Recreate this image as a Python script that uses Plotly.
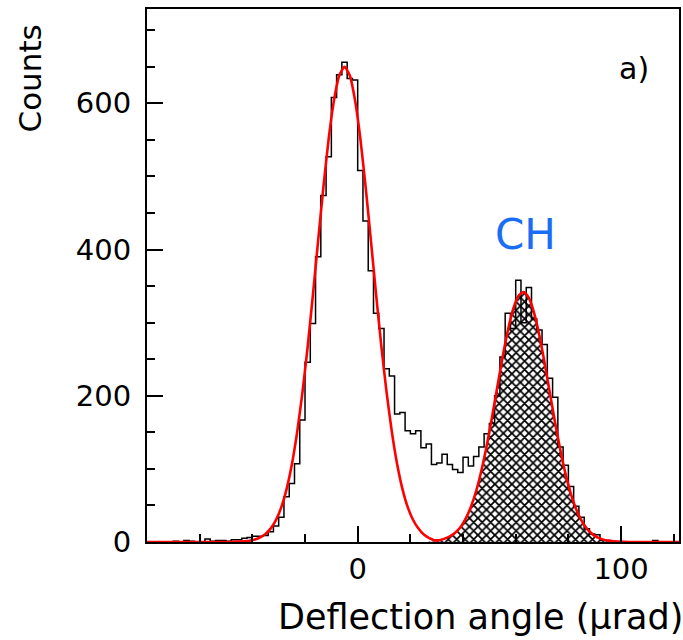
import plotly.graph_objects as go

# ---------------- data ----------------
bin_width = 2.0
x_first_edge = -80.0
counts = [
    0, 0, 0, 0, 0, 1, 0, 2, 1, 0,            # -80 .. -62
    0, 4, 1, 2, 2, 1, 3, 3, 5, 6,            # -60 .. -42
    8, 8, 9, 14, 22, 34, 62, 80, 107, 167,   # -40 .. -22
    246, 299, 390, 474, 527, 608, 639, 656, 634, 632,  # -20 .. -2
    508, 439, 371, 313, 292, 237, 227, 175, 177, 152,  # 0 .. 18
    148, 152, 129, 134, 106, 108, 120, 106, 99, 95,    # 20 .. 38
    116, 104, 117, 130, 148, 162, 200, 253, 313, 292,  # 40 .. 58
    358, 300, 348, 305, 290, 270, 224, 198, 130, 105,  # 60 .. 78
    76, 49, 34, 18, 11, 10, 3, 2, 1, 0,                # 80 .. 98
    0, 0, 0, 0, 0, 0, 2, 0, 0, 0,                      # 100 .. 118
    0,                                                 # 120
]

# fitted curve (sum of both peaks)
fit_x = [-80, -60, -53, -49,
         -45, -43, -41, -39, -37, -35, -33, -31, -29, -27, -25, -23, -21, -19,
         -17, -15, -13, -11, -9, -7, -5, -3, -1, 1, 3, 5, 7, 9, 11, 13, 15,
         17, 19, 21, 23, 25, 27, 29, 31, 33, 35, 37, 39, 41, 43, 45, 47, 49,
         51, 53, 55, 57, 59, 61, 63, 65, 67, 69, 71, 73, 75, 77, 79, 81, 83,
         85, 87, 89, 91, 93, 95, 97, 99,
         103, 110, 122]
fit_y = [0, 0, 0, 0.1,
         0.5, 0.9, 1.8, 3.4, 6.3, 11, 18.6, 30.3, 47.7, 72.4, 106, 150, 204, 267,
         338, 413, 486, 552, 604, 638, 650, 638, 604, 552, 486, 413, 338, 267, 204, 150, 106,
         72.4, 47.7, 30.4, 18.7, 10.5, 5.5, 2.5, 2.5, 4.6, 7.6, 12.5, 20.2, 31.9, 48.2, 70.1, 98.2, 132,
         170.5, 211.6, 252.4, 289, 318.2, 336.5, 342, 333.8, 313.1, 282.2, 244.4, 203.3, 162.5, 124.8, 92.1, 65.3, 44.5,
         29.1, 18.3, 11.1, 6.4, 3.6, 1.9, 1.0, 0.5,
         0.1, 0, 0]

# channeling (CH) component, hatched
ch_x = [27, 29, 31, 33, 35, 37, 39, 41, 43, 45, 47, 49,
        51, 53, 55, 57, 59, 61, 63, 65, 67, 69, 71, 73, 75, 77, 79, 81, 83,
        85, 87, 89, 91, 93, 95, 97, 99, 103, 110, 122]
ch_y = [0.6, 1.1, 2.2, 4.0, 7.2, 12.3, 20.1, 31.8, 48.2, 70.1, 98.2, 132,
        170.5, 211.6, 252.4, 289, 318.2, 336.5, 342, 333.8, 313.1, 282.2, 244.4, 203.3, 162.5, 124.8, 92.1, 65.3, 44.5,
        29.1, 18.3, 11.1, 6.4, 3.6, 1.9, 1.0, 0.5, 0.1, 0, 0]

x_range = [-80, 122]
y_range = [0, 729]
x_title = "Deflection angle (\u03bcrad)"
y_title = "Counts"
panel_label = "a)"
ch_label = "CH"

assert len(fit_x) == len(fit_y) and len(ch_x) == len(ch_y)

# step outline of the histogram
edges = [x_first_edge + i * bin_width for i in range(len(counts) + 1)]
step_x = edges
step_y = counts + [counts[-1]]

FONT = "DejaVu Sans"

fig = go.Figure()

fig.add_trace(go.Scatter(
    x=ch_x, y=ch_y, mode="lines", fill="tozeroy",
    line=dict(width=0, color="rgba(0,0,0,0)", shape="spline", smoothing=0.6),
    fillcolor="white",
    fillpattern=dict(shape="x", fgcolor="black", fgopacity=1, bgcolor="white",
                     size=6, solidity=0.5),
    hoverinfo="skip", showlegend=False,
))

fig.add_trace(go.Scatter(
    x=step_x, y=step_y, mode="lines",
    line=dict(color="black", width=1.5, shape="hv"),
    showlegend=False,
))

fig.add_trace(go.Scatter(
    x=fit_x, y=fit_y, mode="lines",
    line=dict(color="#ff0000", width=2.6, shape="spline", smoothing=0.6),
    showlegend=False,
))

fig.update_layout(
    width=683, height=640,
    margin=dict(l=147, r=2, t=9, b=98),
    paper_bgcolor="white", plot_bgcolor="white",
    font=dict(family=FONT, color="black"),
    showlegend=False,
)

fig.update_xaxes(
    range=x_range, showgrid=False, zeroline=False,
    showline=True, linecolor="black", linewidth=2, mirror=True,
    ticks="inside", ticklen=16, tickwidth=2, tickcolor="black",
    tick0=0, dtick=100,
    minor=dict(ticks="inside", ticklen=8, tickwidth=2, tickcolor="black", dtick=20, tick0=0),
    tickfont=dict(size=29, family=FONT, color="black"),
    ticklabelstandoff=0,
)
fig.update_yaxes(
    range=y_range, showgrid=False, zeroline=False,
    showline=True, linecolor="black", linewidth=2, mirror=True,
    ticks="inside", ticklen=16, tickwidth=2, tickcolor="black",
    tick0=0, dtick=200,
    minor=dict(ticks="inside", ticklen=8, tickwidth=2, tickcolor="black", dtick=50, tick0=0),
    tickfont=dict(size=29, family=FONT, color="black"),
    ticklabelstandoff=8,
)

fig.add_annotation(
    text=x_title, xref="paper", yref="paper", x=1.012, y=-0.14,
    xanchor="right", yanchor="middle", showarrow=False,
    font=dict(size=35, family=FONT, color="black"),
)
fig.add_annotation(
    text=y_title, xref="paper", yref="paper", x=-0.219, y=0.9756,
    xanchor="center", yanchor="top", textangle=-90, showarrow=False,
    font=dict(size=31, family=FONT, color="black"),
)
fig.add_annotation(
    text=panel_label, xref="paper", yref="paper", x=0.9157, y=0.8893,
    xanchor="center", yanchor="middle", showarrow=False,
    font=dict(size=30, family=FONT, color="black"),
)
fig.add_annotation(
    text=ch_label, xref="x", yref="y", x=63.7, y=420,
    xanchor="center", yanchor="middle", showarrow=False,
    font=dict(size=42, family=FONT, color="#1a6ef5"),
)

fig.write_html("out.html")
